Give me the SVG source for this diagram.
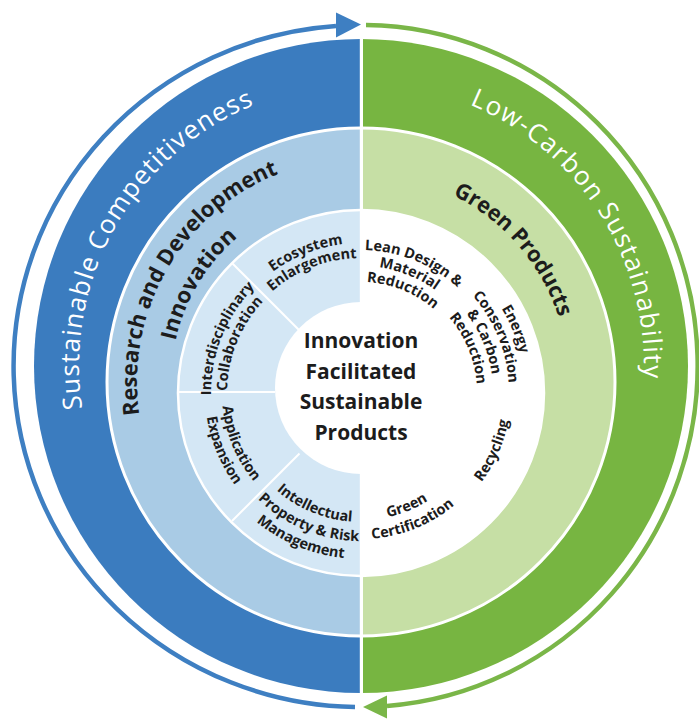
<svg xmlns="http://www.w3.org/2000/svg" width="699" height="719" viewBox="0 0 699 719">
<style>
.ot{font-family:"Open Sans","Liberation Sans",sans-serif;font-size:26px;fill:#ffffff;}
.bt{font-family:"Open Sans","Liberation Sans",sans-serif;font-weight:700;font-size:22px;fill:#1c1c1c;}
.st{font-family:"Open Sans","Liberation Sans",sans-serif;font-weight:700;font-size:14.5px;fill:#1c1c1c;}
.ct{font-family:"Open Sans","Liberation Sans",sans-serif;font-weight:700;font-size:21px;fill:#1c1c1c;text-anchor:middle;}
.dv{stroke:#ffffff;stroke-width:2;}
.blueArc{fill:none;stroke:#3e7fc2;stroke-width:4.5;}
.greenArc{fill:none;stroke:#7ab648;stroke-width:4.5;}
</style>
<defs>
<clipPath id="L"><rect x="0" y="0" width="361.5" height="719"/></clipPath>
<clipPath id="R"><rect x="361.5" y="0" width="338" height="719"/></clipPath>
<path id="p1" d="M118.0,509.1 A282,282 0 0 1 358.5,84.0"/>
<path id="p2" d="M348.7,83.3 A283,283 0 0 1 612.0,496.7"/>
<path id="p3" d="M167.0,494.0 A224,224 0 0 1 361,158"/>
<path id="p4" d="M194.8,474.1 A190,190 0 0 1 364.3,192.0"/>
<path id="p5" d="M321.3,177.8 A208,208 0 0 1 557.7,449.7"/>
<path id="e1" d="M218.8,345.4 A150,150 0 0 1 432.6,261.2"/>
<path id="e2" d="M233.0,350.2 A135,135 0 0 1 425.4,274.4"/>
<path id="i1" d="M228.6,463.4 A150,150 0 0 1 314.6,250.3"/>
<path id="i2" d="M242.7,455.9 A134,134 0 0 1 319.6,265.6"/>
<path id="a1" d="M237.7,328.8 A139,139 0 0 0 319.2,525.6"/>
<path id="a2" d="M222.6,321.0 A156,156 0 0 0 314.1,541.8"/>
<path id="r1" d="M238.0,431.8 A129,129 0 0 0 420.6,507.4"/>
<path id="r2" d="M219.8,437.5 A148,148 0 0 0 429.3,524.3"/>
<path id="r3" d="M202.7,442.9 A166,166 0 0 0 437.7,540.2"/>
<path id="l1" d="M293.9,266.7 A143,143 0 0 1 497.0,348.8"/>
<path id="l2" d="M301.4,280.9 A127,127 0 0 1 481.8,353.8"/>
<path id="l3" d="M308.9,295.0 A111,111 0 0 1 466.6,358.7"/>
<path id="c1" d="M410.3,236.6 A164,164 0 0 1 506.5,468.7"/>
<path id="c2" d="M405.5,251.8 A148,148 0 0 1 492.3,461.3"/>
<path id="c3" d="M400.7,267.1 A132,132 0 0 1 478.1,454.0"/>
<path id="c4" d="M395.9,282.4 A116,116 0 0 1 463.9,446.6"/>
<path id="y1" d="M403.6,536.8 A150,150 0 0 0 495.2,326.1"/>
<path id="g1" d="M301.4,505.1 A127,127 0 0 0 481.8,432.2"/>
<path id="g2" d="M292.5,521.9 A146,146 0 0 0 499.9,438.1"/>
</defs>
<rect x="0" y="0" width="699" height="719" fill="#ffffff"/>

<g id="ring-outer">
<circle cx="361" cy="366" r="327" fill="#3b7cbf" clip-path="url(#L)"/>
<circle cx="361" cy="366" r="327" fill="#77b541" clip-path="url(#R)"/>
</g>
<g id="ring-middle">
<circle cx="361" cy="382" r="254" fill="#a9cbe5" stroke="#ffffff" stroke-width="3" clip-path="url(#L)"/>
<circle cx="361" cy="382" r="254" fill="#c6dfa5" stroke="#ffffff" stroke-width="3" clip-path="url(#R)"/>
</g>
<g id="ring-inner">
<circle cx="361" cy="393" r="183" fill="#d4e7f5" stroke="#ffffff" stroke-width="2.5" clip-path="url(#L)"/>
<circle cx="361" cy="393" r="183" fill="#ffffff" stroke="#ffffff" stroke-width="2.5" clip-path="url(#R)"/>
<line class="dv" x1="299.5" y1="330.5" x2="232" y2="263"/>
<line class="dv" x1="275" y1="392" x2="178" y2="392"/>
<line class="dv" x1="299.5" y1="453.5" x2="232" y2="521"/>
</g>
<rect id="gap" x="359.8" y="38" width="3.2" height="658" fill="#ffffff"/>

<g id="center">
<circle cx="361" cy="388" r="86" fill="#ffffff"/>
<text class="ct" x="361" y="348">Innovation</text>
<text class="ct" x="361" y="378.5">Facilitated</text>
<text class="ct" x="361" y="409">Sustainable</text>
<text class="ct" x="361" y="439.5">Products</text>
</g>

<g id="sustainable-competitiveness">
<text class="ot" text-anchor="middle"><textPath href="#p1" startOffset="50%" textLength="376" lengthAdjust="spacing">Sustainable Competitiveness</textPath></text>
</g>
<g id="low-carbon-sustainability">
<text class="ot" text-anchor="middle"><textPath href="#p2" startOffset="50%" textLength="345" lengthAdjust="spacing">Low-Carbon Sustainability</textPath></text>
</g>
<g id="rd-innovation">
<text class="bt" text-anchor="middle"><textPath href="#p3" startOffset="50%" textLength="300" lengthAdjust="spacingAndGlyphs">Research and Development</textPath></text>
<text class="bt" text-anchor="middle"><textPath href="#p4" startOffset="50%" textLength="123" lengthAdjust="spacingAndGlyphs">Innovation</textPath></text>
</g>
<g id="green-products">
<text class="bt" text-anchor="middle"><textPath href="#p5" startOffset="50%" textLength="166" lengthAdjust="spacingAndGlyphs">Green Products</textPath></text>
</g>

<g id="ecosystem-enlargement">
<text class="st" text-anchor="middle"><textPath href="#e1" startOffset="50%">Ecosystem</textPath></text>
<text class="st" text-anchor="middle"><textPath href="#e2" startOffset="50%">Enlargement</textPath></text>
</g>
<g id="interdisciplinary-collaboration">
<text class="st" text-anchor="middle"><textPath href="#i1" startOffset="50%">Interdisciplinary</textPath></text>
<text class="st" text-anchor="middle"><textPath href="#i2" startOffset="50%">Collaboration</textPath></text>
</g>
<g id="application-expansion">
<text class="st" text-anchor="middle"><textPath href="#a1" startOffset="50%">Application</textPath></text>
<text class="st" text-anchor="middle"><textPath href="#a2" startOffset="50%">Expansion</textPath></text>
</g>
<g id="ip-risk-management">
<text class="st" text-anchor="middle"><textPath href="#r1" startOffset="50%">Intellectual</textPath></text>
<text class="st" text-anchor="middle"><textPath href="#r2" startOffset="50%">Property &amp; Risk</textPath></text>
<text class="st" text-anchor="middle"><textPath href="#r3" startOffset="50%">Management</textPath></text>
</g>
<g id="lean-design">
<text class="st" text-anchor="middle"><textPath href="#l1" startOffset="50%">Lean Design &amp;</textPath></text>
<text class="st" text-anchor="middle"><textPath href="#l2" startOffset="50%">Material</textPath></text>
<text class="st" text-anchor="middle"><textPath href="#l3" startOffset="50%">Reduction</textPath></text>
</g>
<g id="energy-conservation">
<text class="st" text-anchor="middle"><textPath href="#c1" startOffset="50%">Energy</textPath></text>
<text class="st" text-anchor="middle"><textPath href="#c2" startOffset="50%">Conservation</textPath></text>
<text class="st" text-anchor="middle"><textPath href="#c3" startOffset="50%">&amp; Carbon</textPath></text>
<text class="st" text-anchor="middle"><textPath href="#c4" startOffset="50%">Reduction</textPath></text>
</g>
<g id="recycling">
<text class="st" text-anchor="middle"><textPath href="#y1" startOffset="50%">Recycling</textPath></text>
</g>
<g id="green-certification">
<text class="st" text-anchor="middle"><textPath href="#g1" startOffset="50%">Green</textPath></text>
<text class="st" text-anchor="middle"><textPath href="#g2" startOffset="50%">Certification</textPath></text>
</g>

<g id="connectors">
<path class="blueArc" d="M355,707 A347,341 0 0 1 336,25.9"/>
<polygon points="361,24.5 336,12.5 336,37.5" fill="#3e7fc2"/>
<path class="greenArc" d="M366,25 A336,341 0 0 1 387,706"/>
<polygon points="363,707 387,695.5 387,718.5" fill="#7ab648"/>
</g>
</svg>
